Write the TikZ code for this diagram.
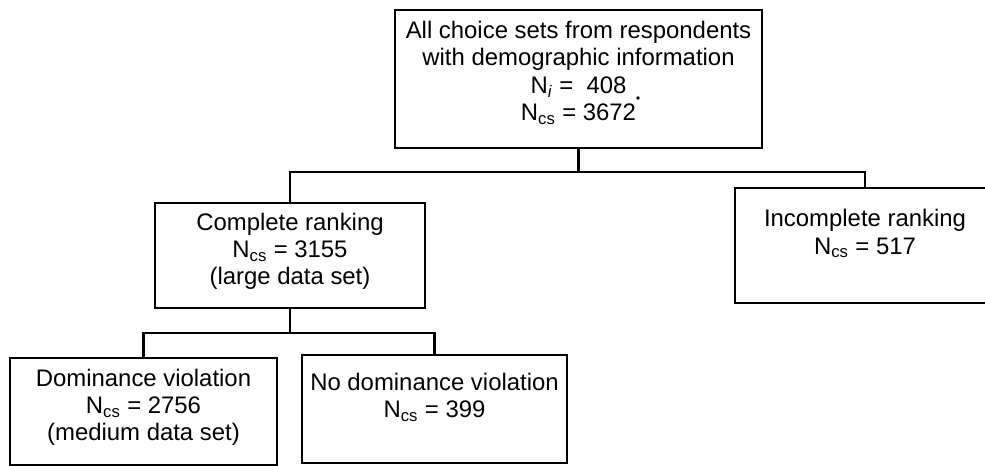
\documentclass[tikz,border=0pt]{standalone}
\usepackage{fontspec}
\setmainfont{Liberation Sans}
\usetikzlibrary{positioning}
\def\Ncs{N\textsubscript{cs}}

\begin{document}
\begin{tikzpicture}[% pixel grid of the scan, y runs downwards
			x=0.025cm,y=-0.025cm,
			every node/.style={
				rectangle,draw=black,line width=1.6pt,
				align=center,  		% use this so that the "\\" for line break works
				font=\fontsize{17}{19.5}\selectfont
			},
			every path/.style={line width=1.6pt}
		]
		\useasboundingbox (0,0) rectangle (985,466);
		\node[minimum width=9.175cm,minimum height=3.45cm](R1) at (578.5,79){All choice sets from respondents\\with demographic information\\N\textsubscript{\textit{i}} =\ \ 408\\\Ncs{} = 3672\\[-8pt]\mbox{}};
		\node[minimum width=6.75cm,minimum height=2.625cm](R2) at (290,255.5){Complete ranking\\\Ncs{} = 3155\\(large data set)\\[-10pt]\mbox{}};
		\node[minimum width=6.5cm,minimum height=2.875cm](R3) at (865,245.5){Incomplete ranking\\\Ncs{} = 517\\\mbox{}};
		\node[minimum width=6.675cm,minimum height=2.675cm](R4) at (143.5,411.5){Dominance violation\\\Ncs{} = 2756\\(medium data set)\\[-10pt]\mbox{}};
		\node[minimum width=6.625cm,minimum height=2.7cm](R5) at (434.5,409){No dominance violation\\\Ncs{} = 399\\\mbox{}};
		% branch points
		\coordinate (B1) at (578.5,172);
		\coordinate (B2) at (290,333);
		\draw (R1.south) -- (B1) -| (R2.north);
		\draw (B1) -| (R3.north);
		\draw (R2.south) -- (B2) -| (R4.north);
		\draw (B2) -| (R5.north);
		\fill (638,98) circle (1.3pt);
	\end{tikzpicture}
\end{document}
